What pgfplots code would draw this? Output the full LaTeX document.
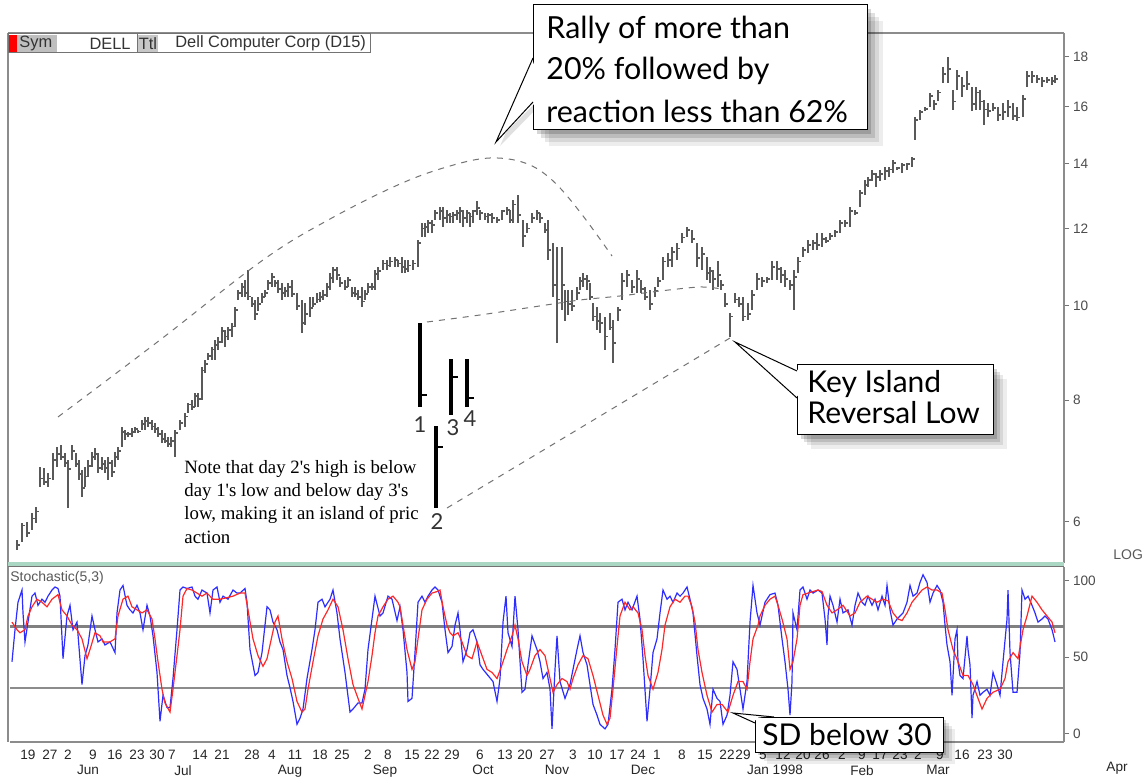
\documentclass[border=0pt]{standalone}
\usepackage{pgfplots}
\usepackage{pgfplotstable}
\pgfplotsset{compat=1.18}
\usepackage{fontspec}
\setmainfont{Liberation Sans}
\newfontfamily\notefont{Liberation Serif}
\newfontfamily\callfont{Lato}

\pgfdeclareplotmark{ctick}{\pgfpathmoveto{\pgfqpoint{0pt}{0pt}}\pgfpathlineto{\pgfqpoint{1.7pt}{0pt}}\pgfusepathqstroke}
\pgfdeclareplotmark{btick}{\pgfpathmoveto{\pgfqpoint{0pt}{0pt}}\pgfpathlineto{\pgfqpoint{3.6pt}{0pt}}\pgfusepathqstroke}

\definecolor{kblue}{RGB}{45,45,255}
\definecolor{dred}{RGB}{255,40,40}
\definecolor{septeal}{RGB}{170,214,196}

\pgfplotstableread{
x h l c
17 5.75 5.62 5.68
22 5.99 5.72 5.95
27 6.00 5.79 5.85
32 6.13 5.89 6.05
36 6.22 5.99 6.15
40 6.83 6.52 6.65
44 6.82 6.55 6.60
48 6.74 6.52 6.65
53 7.06 6.63 6.95
57 7.16 6.83 7.05
61 7.20 6.95 7.00
65 7.06 6.83 6.90
68 6.95 6.20 6.80
72 7.20 6.95 7.10
76 7.06 6.83 6.88
79 6.95 6.63 6.72
82 6.78 6.37 6.50
85 6.83 6.52 6.68
88 6.95 6.67 6.85
92 7.08 6.83 7.00
95 7.14 6.95 7.05
98 7.06 6.74 6.82
102 7.00 6.78 6.88
105 6.95 6.74 6.82
108 7.00 6.63 6.90
112 6.95 6.67 6.75
115 7.08 6.83 7.00
118 7.16 6.95 7.10
122 7.51 7.16 7.42
125 7.46 7.28 7.38
128 7.42 7.33 7.38
132 7.49 7.33 7.42
135 7.51 7.40 7.47
138 7.46 7.40 7.43
142 7.64 7.46 7.57
145 7.69 7.46 7.62
148 7.69 7.51 7.58
152 7.64 7.46 7.52
155 7.58 7.40 7.47
158 7.51 7.33 7.38
162 7.46 7.23 7.30
165 7.40 7.23 7.27
168 7.33 7.16 7.22
171 7.33 7.16 7.26
175 7.46 7.00 7.40
180 7.64 7.46 7.58
185 7.76 7.51 7.70
188 7.95 7.76 7.92
192 8.00 7.82 7.88
195 8.14 7.87 8.08
198 8.14 7.87 8.02
202 8.65 8.00 8.58
205 8.80 8.53 8.72
208 8.94 8.80 8.88
212 9.07 8.80 9.02
215 9.22 8.80 9.12
218 9.29 9.01 9.18
222 9.51 9.16 9.42
225 9.44 9.07 9.30
228 9.51 9.22 9.44
232 9.60 9.29 9.52
235 9.97 9.51 9.90
238 10.38 10.14 10.30
242 10.55 10.21 10.45
245 10.63 10.21 10.30
248 10.88 10.14 10.22
252 10.21 9.97 10.05
255 10.14 9.67 9.80
258 10.21 9.88 10.05
262 10.31 10.06 10.20
265 10.38 10.21 10.30
268 10.63 10.38 10.55
272 10.81 10.45 10.70
275 10.63 10.45 10.55
278 10.63 10.31 10.40
282 10.55 10.14 10.30
285 10.45 10.21 10.35
288 10.55 10.21 10.45
292 10.63 10.21 10.28
297 10.31 9.90 10.00
302 10.14 9.38 9.60
305 10.06 9.55 9.80
310 10.21 9.74 9.95
313 10.21 9.97 10.05
317 10.31 10.06 10.15
320 10.33 10.09 10.20
323 10.38 10.14 10.25
327 10.55 10.21 10.45
330 10.81 10.38 10.68
333 10.96 10.55 10.88
337 10.96 10.63 10.75
340 10.70 10.45 10.55
345 10.63 10.38 10.45
348 10.70 10.45 10.62
352 10.45 10.21 10.30
355 10.45 10.21 10.28
358 10.38 10.14 10.20
362 10.45 9.97 10.10
365 10.38 10.14 10.28
368 10.55 10.31 10.45
372 10.55 10.38 10.45
375 10.88 10.38 10.78
378 10.96 10.63 10.85
383 11.14 10.88 11.05
387 11.14 10.88 11.00
390 11.22 10.96 11.10
395 11.22 10.96 11.15
398 11.14 10.96 11.05
402 11.22 10.80 10.95
405 11.14 10.80 10.90
408 11.14 10.83 11.00
413 11.14 10.88 11.05
418 11.68 10.96 11.60
422 12.16 11.77 12.00
425 12.16 11.77 12.05
428 12.25 11.88 12.15
432 12.25 11.88 12.10
435 12.54 12.25 12.45
440 12.63 12.25 12.50
443 12.63 12.05 12.30
447 12.54 12.16 12.40
450 12.45 12.16 12.35
453 12.48 12.16 12.40
457 12.54 12.25 12.45
460 12.63 12.16 12.50
463 12.54 12.05 12.30
467 12.54 12.16 12.45
470 12.45 12.05 12.35
473 12.54 12.16 12.50
477 12.81 12.39 12.60
480 12.54 12.25 12.45
485 12.45 12.25 12.35
488 12.45 12.16 12.40
492 12.45 12.16 12.30
497 12.33 12.16 12.25
502 12.54 12.25 12.50
507 12.63 12.39 12.55
510 12.54 12.16 12.25
513 12.84 12.16 12.70
518 13.00 12.16 12.40
523 12.25 11.49 11.80
527 12.16 11.88 12.00
532 12.45 12.16 12.30
537 12.54 12.25 12.45
540 12.45 12.16 12.30
545 12.16 11.88 11.95
548 12.25 11.14 11.40
553 11.60 10.21 10.50
557 11.49 9.16 10.15
562 11.49 9.90 10.50
565 10.38 9.65 10.10
568 10.38 9.79 10.05
572 10.38 9.88 10.00
577 10.45 10.14 10.30
580 10.70 10.38 10.60
583 10.81 10.45 10.65
587 10.75 10.38 10.60
590 10.55 10.14 10.20
593 10.06 9.65 9.75
597 9.97 9.44 9.65
600 9.83 9.38 9.60
605 9.74 9.01 9.30
610 9.83 9.44 9.50
613 9.67 8.74 9.15
618 9.97 9.65 9.90
622 10.81 10.14 10.60
627 10.88 10.45 10.75
632 10.63 10.31 10.45
637 10.88 10.31 10.65
641 10.63 10.31 10.40
645 10.45 10.14 10.20
650 10.38 9.90 10.05
655 10.45 10.21 10.35
658 10.70 10.45 10.60
663 11.22 10.63 11.10
668 11.33 10.96 11.15
672 11.49 10.96 11.35
677 11.60 11.14 11.45
682 11.88 11.60 11.75
687 12.05 11.77 11.95
692 11.96 11.60 11.70
697 11.60 10.96 11.20
702 11.49 10.88 11.30
707 11.22 10.63 10.80
710 10.96 10.55 10.85
713 10.88 10.38 10.65
718 11.11 10.45 10.75
721 10.63 10.38 10.50
725 10.31 9.97 10.05
730 9.83 9.29 9.75
735 10.31 10.06 10.15
739 10.21 9.97 10.05
743 10.21 9.65 9.75
748 10.06 9.67 9.80
752 10.38 9.90 10.25
757 10.81 10.38 10.65
762 10.70 10.45 10.60
767 10.70 10.55 10.65
772 11.11 10.63 10.95
777 11.11 10.63 10.90
781 10.96 10.55 10.75
785 10.88 10.45 10.65
790 10.63 10.38 10.50
794 10.88 9.90 10.70
798 11.22 10.80 11.10
803 11.49 11.22 11.40
808 11.68 11.33 11.55
813 11.68 11.41 11.60
817 11.88 11.41 11.55
822 11.88 11.49 11.70
826 11.77 11.60 11.65
830 11.88 11.68 11.80
835 11.96 11.77 11.90
840 12.25 11.88 12.15
845 12.25 12.05 12.15
850 12.63 12.05 12.50
855 12.54 12.39 12.45
860 13.15 12.63 13.05
865 13.46 12.99 13.30
868 13.56 13.24 13.45
872 13.78 13.43 13.65
876 13.68 13.24 13.55
880 13.78 13.43 13.65
885 13.88 13.46 13.75
889 13.88 13.56 13.80
893 14.11 13.68 14.00
897 13.88 13.78 13.85
902 14.01 13.68 13.95
907 14.01 13.78 13.98
912 14.21 13.88 14.15
915 15.62 14.79 15.50
920 15.88 15.51 15.80
925 16.00 15.84 15.92
930 16.53 16.00 16.40
934 16.26 15.88 16.10
938 16.65 16.22 16.55
943 17.58 16.93 17.30
948 18.00 16.93 17.50
953 16.65 15.88 16.20
957 17.46 16.65 17.20
962 17.17 16.38 16.80
967 17.41 16.65 16.90
972 16.77 15.84 16.10
976 16.77 15.88 16.55
980 16.65 15.88 16.20
984 16.26 15.33 15.90
988 16.14 15.62 15.85
993 16.14 15.84 15.95
998 16.00 15.47 15.70
1003 16.14 15.51 15.80
1008 16.26 15.62 16.00
1013 16.14 15.51 15.65
1017 16.00 15.47 15.60
1023 16.45 15.62 16.30
1027 17.41 16.77 17.20
1032 17.41 16.93 17.20
1037 17.25 16.93 17.10
1042 17.17 16.77 17.00
1047 17.17 16.93 17.05
1052 17.17 16.85 17.00
1055 17.25 16.93 17.10
}\bars

\pgfplotstableread{
x h l c
420 9.60 7.87 8.10
436 7.53 6.20 7.16
451 8.82 7.73 8.45
467 8.82 7.87 8.04
}\islandbars

\pgfplotstableread{
x k
12 47
15 68
18 86
22 94
23 79
25 60
28 73
32 90
35 92
38 84
42 88
45 86
48 90
52 94
55 96
58 95
60 90
63 49
67 77
70 84
73 68
77 73
82 32
85 51
88 58
92 77
95 68
98 60
102 62
105 58
110 60
115 53
117 79
120 94
123 97
127 84
130 81
133 79
137 84
140 79
143 68
147 84
150 77
153 64
157 40
160 8
163 25
167 17
170 17
173 36
177 68
180 94
183 96
187 95
192 96
195 90
198 88
202 94
207 92
210 79
213 94
217 96
220 86
223 90
228 88
233 94
237 92
240 92
245 95
247 86
250 55
255 38
258 40
262 53
267 83
270 81
273 73
277 68
280 60
283 55
287 38
290 30
293 21
297 6
300 10
303 16
307 36
312 55
315 68
318 86
322 88
325 83
330 88
333 94
337 79
340 62
345 40
350 14
353 16
358 20
362 20
365 29
368 55
372 75
375 90
380 77
383 79
388 90
392 88
397 74
400 83
403 68
407 40
408 21
412 23
415 53
418 86
422 90
425 86
428 90
432 94
435 96
438 94
442 86
445 68
448 53
452 57
455 71
458 79
460 68
463 47
467 55
470 66
473 68
477 60
480 45
483 42
488 38
493 34
497 21
500 36
503 73
506 90
508 66
512 57
515 90
518 68
522 27
525 29
528 45
532 64
537 55
540 47
543 36
547 40
550 29
552 3
555 42
557 64
560 34
565 23
570 32
573 42
577 55
580 64
583 53
587 45
590 32
593 19
597 12
600 6
605 3
608 6
612 29
615 55
618 86
622 88
625 81
628 86
632 81
637 90
640 75
643 49
647 8
650 29
653 53
657 62
660 79
663 94
667 88
670 90
673 86
677 92
680 90
683 92
687 96
690 88
693 79
697 51
700 32
703 23
707 16
710 6
713 29
717 23
720 21
723 6
727 12
730 25
733 47
737 42
740 29
743 16
747 34
750 73
753 97
757 79
760 71
765 86
770 91
775 92
778 84
782 62
785 47
788 29
790 12
792 34
793 79
797 68
800 94
803 96
807 88
810 94
813 92
818 94
822 92
825 75
827 58
828 77
830 90
833 84
837 73
840 88
843 79
848 81
852 71
855 84
858 92
862 86
865 84
868 90
872 84
875 88
878 81
882 90
885 84
887 97
890 81
893 71
897 75
900 77
903 79
907 86
910 97
913 90
917 92
920 99
923 104
927 99
930 86
933 92
937 97
940 94
943 86
945 71
947 58
950 47
952 25
955 62
957 68
958 47
960 38
963 36
967 64
968 55
970 45
972 10
973 25
977 34
980 25
983 27
987 29
990 25
993 40
997 32
1000 25
1003 47
1007 75
1008 94
1010 53
1013 27
1017 27
1020 53
1022 94
1025 88
1028 90
1032 84
1035 79
1038 73
1042 75
1045 77
1048 75
1052 68
1055 60
}\stochK

\pgfplotstableread{
x d
12 73
17 68
20 66
25 68
28 77
32 83
37 88
42 86
47 83
52 88
58 91
62 81
67 77
72 71
77 68
82 62
87 49
90 55
95 66
100 64
103 60
110 60
115 62
118 77
123 88
128 90
132 83
137 81
142 79
147 81
152 75
155 62
158 47
162 29
165 20
170 14
173 29
177 51
180 68
183 90
187 95
192 94
197 92
202 90
207 92
213 88
220 88
227 89
233 90
240 92
245 92
248 81
253 62
258 51
263 44
267 49
272 64
275 73
278 77
282 62
287 47
292 36
297 21
302 14
305 16
308 29
313 47
318 64
323 75
328 81
333 88
338 83
343 68
348 49
353 32
358 23
362 16
365 25
368 34
372 51
375 66
378 77
383 83
388 88
393 90
398 86
400 83
403 71
407 55
412 42
415 47
418 62
422 81
427 88
432 92
437 93
440 94
443 83
447 71
450 66
453 64
458 66
462 60
467 51
472 49
477 60
482 51
487 42
492 40
497 36
502 45
507 55
512 64
515 71
518 62
522 47
527 38
530 42
535 51
540 55
545 51
550 36
553 27
557 32
562 36
567 34
570 29
573 36
578 45
583 51
588 49
593 38
598 25
603 12
607 6
610 10
613 29
617 57
620 77
625 86
630 81
633 83
638 79
642 68
645 51
648 38
653 29
658 40
662 55
665 71
670 83
675 88
680 86
685 90
688 90
692 83
695 73
698 55
702 40
707 25
712 14
717 19
722 19
728 14
733 25
738 34
743 34
747 29
750 47
753 62
758 71
760 77
765 84
770 88
775 90
778 84
782 75
787 62
790 42
793 47
797 62
800 84
803 91
808 92
813 93
818 94
822 93
827 84
832 79
837 81
843 84
850 77
855 79
860 86
867 90
872 88
877 86
883 88
888 87
893 79
898 75
902 74
907 79
912 86
917 90
922 94
927 96
932 94
937 94
942 92
945 81
948 68
953 55
958 47
963 38
968 38
973 32
978 23
982 16
987 23
993 27
1000 29
1005 36
1008 47
1013 53
1018 49
1023 68
1027 77
1032 90
1037 86
1042 81
1047 77
1052 73
1055 66
}\stochD

\begin{document}
\begin{tikzpicture}
\useasboundingbox (0,0) rectangle (571.5pt,388pt);
\fill[white] (0,0) rectangle (571.5pt,388pt);

% ---------------- price panel ----------------
\begin{axis}[
  at={(5pt,106.5pt)}, anchor=south west, scale only axis,
  width=527pt, height=265pt,
  xmin=10, xmax=1064,
  ymode=log, ymin=5.446, ymax=19.05,
  axis x line=none, axis y line*=right,
  axis line style={draw=black!45, line width=1.4pt, -},
  ytick={6,8,10,12,14,16,18}, yticklabels={6,8,10,12,14,16,18},
  yminorticks=false,
  tick align=outside, major tick length=2.5pt,
  ytick style={draw=black!55, line width=0.5pt},
  yticklabel style={font=\fontsize{6.8}{7}\selectfont, text=black!70, xshift=-1.5pt},
  clip=true,
]
\addplot[only marks, mark=ctick, color=black!65, mark options={line width=0.9pt},
  error bars/.cd, y dir=both, y explicit, error mark=none,
  error bar style={line width=1pt, black!65}]
  table[x=x, y=c, y error plus expr=\thisrow{h}-\thisrow{c}, y error minus expr=\thisrow{c}-\thisrow{l}] {\bars};
\addplot[only marks, mark=btick, color=black, mark options={line width=1.3pt},
  error bars/.cd, y dir=both, y explicit, error mark=none,
  error bar style={line width=1.7pt, black}]
  table[x=x, y=c, y error plus expr=\thisrow{h}-\thisrow{c}, y error minus expr=\thisrow{c}-\thisrow{l}] {\islandbars};
\end{axis}

% ---------------- stochastic panel ----------------
\begin{axis}[
  at={(5pt,17pt)}, anchor=south west, scale only axis,
  width=527pt, height=87.5pt,
  xmin=10, xmax=1064, ymin=-5.6, ymax=109.1,
  axis x line*=bottom, axis y line*=right,
  axis line style={draw=black!45, line width=1.4pt, -},
  ytick={0,50,100}, yticklabels={0,50,100},
  tick align=outside, major tick length=2.5pt,
  ytick style={draw=black!55, line width=0.5pt},
  xtick style={draw=none},
  yticklabel style={font=\fontsize{6.8}{7}\selectfont, text=black!70, xshift=-1.5pt},
  xtick={28,50,68,93,115,137,157,172,200,222,252,272,295,320,342,368,388,412,432,452,480,505,525,547,573,595,617,638,657,682,705,727,743,763,783,803,822,842,862,880,900,918,940,962,985,1005},
  xticklabels={19,27,2,9,16,23,30,7,14,21,28,4,11,18,25,2,8,15,22,29,6,13,20,27,3,10,17,24,1,8,15,22,29,5,12,20,26,2,9,17,23,2,9,16,23,30},
  xticklabel style={font=\fontsize{6.8}{7}\selectfont, text=black!85, inner sep=0.5pt, yshift=-1pt},
  extra x ticks={88,183,290,385,483,557,643,775,862,938},
  extra x tick labels={Jun,Jul,Aug,Sep,Oct,Nov,Dec,Jan 1998,Feb,Mar},
  extra x tick style={xticklabel style={yshift=-7.5pt}},
  clip=true,
]
\addplot[black!50, line width=1.6pt] coordinates {(10,70) (1064,70)};
\addplot[black!45, line width=0.9pt] coordinates {(10,30) (1064,30)};
\addplot[kblue, line width=0.6pt] table[x=x, y=k] {\stochK};
\addplot[dred, line width=0.6pt] table[x=x, y=d] {\stochD};
\end{axis}

% ---------------- frame and annotations (pixel coordinates) ----------------
\begin{scope}[x=0.5pt, y=-0.5pt, shift={(0,388pt)}]
  % frame
  \draw[black!45, line width=0.7pt] (8,33) -- (1064,33);
  \draw[black!45, line width=0.7pt] (8,33) -- (8,742);
  \fill[septeal] (8,562) rectangle (1064,566);
  \draw[black!55, line width=0.6pt] (8,566.5) -- (1064,566.5);

  % header
  \draw[black!55, line width=0.5pt] (8,34) rectangle (370,53);
  \fill[red] (9,35) rectangle (17,52);
  \fill[black!25] (17,35) rectangle (57,52);
  \fill[black!22] (138,35) rectangle (158,52);
  \draw[black!55, line width=0.5pt] (137,34) -- (137,53);
  \begin{scope}[every node/.style={font=\fontsize{8.2}{9}\selectfont, text=black!80, inner sep=0pt}]
    \node[anchor=west] at (19,43.5) {Sym};
    \node[anchor=east] at (131,43.5) {DELL};
    \node at (148,43.5) {Ttl};
    \node[anchor=west] at (175,43.5) {Dell Computer Corp (D15)};
  \end{scope}

  % panel labels
  \node[anchor=west, inner sep=0pt, font=\fontsize{7}{8}\selectfont, text=black!65] at (10,578) {Stochastic(5,3)};
  \node[anchor=west, inner sep=0pt, font=\fontsize{7}{8}\selectfont, text=black!65] at (1113,555) {LOG};
  \node[inner sep=0pt, font=\fontsize{6.8}{7}\selectfont, text=black!85] at (1117,768) {Apr};

  % dashed guide lines
  \begin{scope}[black!55, line width=0.5pt, dash pattern=on 3pt off 3pt]
    \draw plot[smooth, tension=0.6] coordinates {(58,417) (160,340) (263,260) (330,219) (400,184) (450,166) (490,158) (525,163) (552,180) (580,212) (612,256)};
    \draw plot[smooth, tension=0.5] coordinates {(427,322) (480,315) (533,307) (580,300) (620,296) (660,291) (700,287) (722,289)};
    \draw (447,508) -- (730,338);
  \end{scope}

  % island labels
  \begin{scope}[every node/.style={font=\callfont\fontsize{11}{12}\selectfont, text=black!80, inner sep=0pt}]
    \node at (420,425) {1};
    \node at (437,522) {2};
    \node at (453,428) {3};
    \node at (470,419) {4};
  \end{scope}

  % note text
  \node[anchor=north west, align=left, inner sep=0pt, font=\notefont\fontsize{9.4}{11.6}\selectfont] at (184,460)
    {Note that day 2's high is below\\day 1's low and below day 3's\\low, making it an island of pric\\action};

  % callout: Rally
  \foreach \i/\o in {16/0.07,12/0.09,8/0.12,4/0.16} {
    \fill[black, opacity=\o] ({533+\i},{5+\i}) rectangle ({867+\i},{130+\i});
  }
  \fill[black, opacity=0.12] (537,62) -- (500,146) -- (539,106) -- cycle;
  \draw[black, line width=0.5pt, fill=white] (533,5) rectangle (867,130);
  \fill[white] (536,58) -- (496,142) -- (536,102) -- cycle;
  \draw[black, line width=0.5pt] (533,58) -- (496,142) -- (533,102);
  \begin{scope}[every node/.style={anchor=west, inner sep=0pt, font=\callfont\fontsize{15.2}{16}\selectfont}]
    \node at (546,30) {Rally of more than};
    \node at (546,71) {20\% followed by};
    \node at (546,111) {reaction less than 62\%};
  \end{scope}

  % callout: Key Island
  \foreach \i/\o in {14/0.07,10/0.09,7/0.12,4/0.16} {
    \fill[black, opacity=\o] ({797+\i},{365+\i}) rectangle ({993+\i},{435+\i});
  }
  \draw[black, line width=0.5pt, fill=white] (797,365) rectangle (993,435);
  \fill[white] (800,371) -- (735,342) -- (800,398) -- cycle;
  \draw[black, line width=0.5pt] (797,371) -- (735,342) -- (797,398);
  \begin{scope}[every node/.style={anchor=west, inner sep=0pt, font=\callfont\fontsize{15}{16}\selectfont}]
    \node at (807,384) {Key Island};
    \node at (807,413) {Reversal Low};
  \end{scope}

  % callout: SD below 30
  \foreach \i/\o in {12/0.07,9/0.09,6/0.12,3/0.16} {
    \fill[black, opacity=\o] ({755+\i},{717+\i}) rectangle ({943+\i},{752+\i});
  }
  \draw[black, line width=0.5pt, fill=white] (755,717) rectangle (943,752);
  \fill[white] (758,721) -- (733,713) -- (774,720) -- cycle;
  \draw[black, line width=0.5pt] (755,723) -- (733,713) -- (774,717);
  \node[anchor=west, inner sep=0pt, font=\callfont\fontsize{15}{16}\selectfont] at (762,735) {SD below 30};
\end{scope}
\end{tikzpicture}
\end{document}
